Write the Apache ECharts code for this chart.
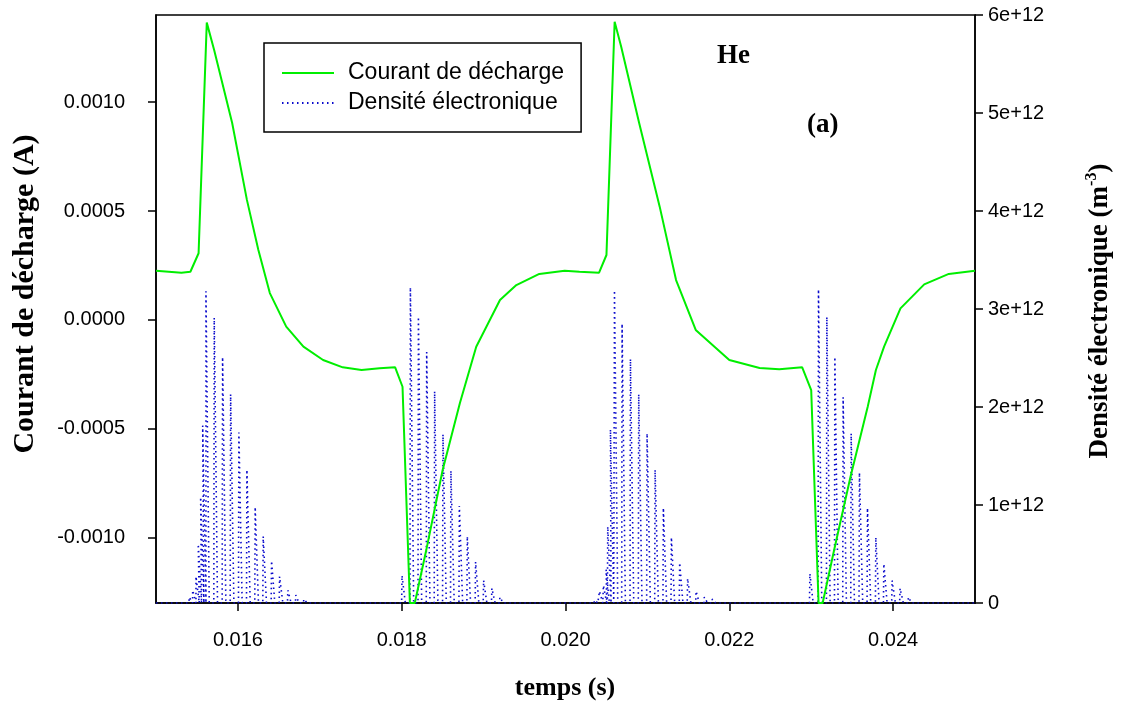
<!DOCTYPE html>
<html>
<head>
<meta charset="utf-8">
<script src="https://cdn.jsdelivr.net/npm/echarts@6/dist/echarts.min.js"></script>
<style>
  html, body { margin: 0; padding: 0; background: #fff; }
  #chart { width: 1122px; height: 704px; }
</style>
</head>
<body>
<div id="chart"></div>
<script>
// Discharge current (A) over time (s)
const currentTime = [
  0.01500, 0.01531, 0.01542, 0.01552, 0.01562, 0.01571, 0.01593, 0.01611, 0.01625, 0.01639,
  0.01659, 0.01680, 0.01704, 0.01728, 0.01751, 0.01773, 0.01792, 0.01801, 0.01810, 0.01816,
  0.01830, 0.01850, 0.01871, 0.01891, 0.01920, 0.01940, 0.01968, 0.01999, 0.02017, 0.02041,
  0.02050, 0.02060, 0.02068, 0.02090, 0.02115, 0.02135, 0.02159, 0.02200, 0.02237, 0.02261,
  0.02289, 0.02300, 0.02309, 0.02314, 0.02328, 0.02348, 0.02369, 0.02379, 0.02389, 0.02409,
  0.02438, 0.02468, 0.02500
];
const currentValue = [
  0.000226, 0.000217, 0.000221, 0.000306, 0.001365, 0.001239, 0.000904, 0.000551, 0.000321, 0.000123,
  -0.000031, -0.000123, -0.000184, -0.000218, -0.000230, -0.000222, -0.000218, -0.000307, -0.00130, -0.00130,
  -0.001057, -0.000689, -0.000383, -0.000123, 0.000091, 0.000160, 0.000211, 0.000226, 0.000221, 0.000217,
  0.000298, 0.001369, 0.001254, 0.000903, 0.000520, 0.000183, -0.000046, -0.000184, -0.000221, -0.000227,
  -0.000218, -0.000322, -0.00130, -0.00130, -0.001057, -0.000720, -0.000399, -0.000230, -0.000123, 0.000053,
  0.000163, 0.000211, 0.000226
];

// Electron density pulses (m^-3): time of each pulse and its peak value
const densityTime = [
  0.015301, 0.015406, 0.015448, 0.015488, 0.015516, 0.015545, 0.015570, 0.015610, 0.015711, 0.015813,
  0.015911, 0.016012, 0.016110, 0.016211, 0.016309, 0.016411, 0.016509, 0.016610, 0.016707, 0.016805,
  0.016918,
  0.017915, 0.018004, 0.018106, 0.018204, 0.018305, 0.018402, 0.018504, 0.018601, 0.018704, 0.018801,
  0.018902, 0.019000, 0.019101, 0.019199, 0.019293,
  0.020268, 0.020354, 0.020415, 0.020463, 0.020496, 0.020516, 0.020549, 0.020598, 0.020691, 0.020793,
  0.020894, 0.020996, 0.021094, 0.021195, 0.021293, 0.021394, 0.021491, 0.021594, 0.021695, 0.021793,
  0.021890,
  0.022882, 0.022984, 0.023089, 0.023191, 0.023289, 0.023390, 0.023488, 0.023589, 0.023687, 0.023789,
  0.023887, 0.023988, 0.024085, 0.024187, 0.024280
];
const densityValue = [
  0.02e12, 0.06e12, 0.13e12, 0.27e12, 0.60e12, 1.08e12, 1.81e12, 3.18e12, 2.91e12, 2.51e12,
  2.13e12, 1.74e12, 1.36e12, 0.98e12, 0.68e12, 0.43e12, 0.27e12, 0.13e12, 0.08e12, 0.04e12,
  0.02e12,
  0.02e12, 0.28e12, 3.22e12, 2.92e12, 2.56e12, 2.16e12, 1.72e12, 1.35e12, 0.99e12, 0.68e12,
  0.42e12, 0.23e12, 0.15e12, 0.06e12, 0.02e12,
  0.01e12, 0.03e12, 0.12e12, 0.18e12, 0.34e12, 0.78e12, 1.77e12, 3.19e12, 2.85e12, 2.49e12,
  2.13e12, 1.73e12, 1.36e12, 0.97e12, 0.67e12, 0.41e12, 0.25e12, 0.12e12, 0.06e12, 0.04e12,
  0.02e12,
  0.02e12, 0.30e12, 3.20e12, 2.92e12, 2.51e12, 2.10e12, 1.73e12, 1.33e12, 0.97e12, 0.67e12,
  0.40e12, 0.23e12, 0.15e12, 0.06e12, 0.02e12
];

// Axis tick positions
const timeTicks = [0.016, 0.018, 0.020, 0.022, 0.024];
const currentTicks = [-0.0010, -0.0005, 0.0000, 0.0005, 0.0010];

const NAME_I = 'Courant de décharge';
const NAME_N = 'Densité électronique';

// Each pulse rises sharply and falls back to zero just after its peak
const RISE = 0.000005, FALL = 0.00004;
const densityData = [[0.015, 0]];
densityTime.forEach(function (t, i) {
  densityData.push([t - RISE, 0], [t, densityValue[i]], [t + FALL, 0]);
});
densityData.push([0.025, 0]);

const currentData = currentTime.map(function (t, i) { return [t, currentValue[i]]; });

const SANS = 'Liberation Sans, Arial, sans-serif';
const SERIF = 'Liberation Serif, Times New Roman, serif';
const axisLine = { show: true, onZero: false, lineStyle: { color: '#000', width: 1.5 } };
const tickStyle = { color: '#000', width: 1.5 };

const chart = echarts.init(document.getElementById('chart'), null, { renderer: 'canvas' });
chart.setOption({
  animation: false,
  backgroundColor: '#fff',
  grid: {
    left: 156, right: 147, top: 15, bottom: 101,
    containLabel: false, outerBoundsMode: 'none',
    show: true, borderColor: '#000', borderWidth: 1.5, backgroundColor: 'transparent'
  },
  legend: {
    orient: 'vertical', left: 264, top: 43,
    padding: [18, 17, 17, 17],
    itemWidth: 52, itemHeight: 14, itemGap: 6,
    borderColor: '#000', borderWidth: 1.5, backgroundColor: '#fff',
    data: [NAME_I, NAME_N],
    itemStyle: { opacity: 0 },
    textStyle: { fontFamily: SANS, fontSize: 23, color: '#000', lineHeight: 24, padding: [0, 0, 0, 9] }
  },
  xAxis: {
    type: 'value', min: 0.015, max: 0.025,
    axisLine: axisLine,
    splitLine: { show: false },
    axisTick: { show: true, inside: false, length: 8, lineStyle: tickStyle, customValues: timeTicks },
    axisLabel: {
      customValues: timeTicks, margin: 27,
      fontFamily: SANS, fontSize: 20, color: '#000',
      formatter: function (v) { return v.toFixed(3); }
    }
  },
  yAxis: [
    {
      type: 'value', position: 'left', min: -0.0013, max: 0.0014,
      axisLine: axisLine,
      splitLine: { show: false },
      axisTick: { show: true, inside: false, length: 8, lineStyle: tickStyle, customValues: currentTicks },
      axisLabel: {
        customValues: currentTicks, margin: 31,
        fontFamily: SANS, fontSize: 20, color: '#000',
        formatter: function (v) { return v.toFixed(4); }
      }
    },
    {
      type: 'value', position: 'right', min: 0, max: 6e12, interval: 1e12,
      axisLine: axisLine,
      splitLine: { show: false },
      axisTick: { show: true, inside: false, length: 8, lineStyle: tickStyle },
      axisLabel: {
        margin: 13, fontFamily: SANS, fontSize: 20, color: '#000',
        formatter: function (v) { return v === 0 ? '0' : Math.round(v / 1e12) + 'e+12'; }
      }
    }
  ],
  series: [
    {
      name: NAME_N, type: 'line', yAxisIndex: 1,
      data: densityData, symbol: 'none', showSymbol: false,
      lineStyle: { color: '#0a0acc', width: 1.6, type: [1.5, 3.5] },
      itemStyle: { color: '#0a0acc' },
      z: 2
    },
    {
      name: NAME_I, type: 'line', yAxisIndex: 0,
      data: currentData, symbol: 'none', showSymbol: false,
      lineStyle: { color: '#00ee00', width: 2 },
      itemStyle: { color: '#00ee00' },
      z: 3
    }
  ],
  graphic: [
    {
      type: 'text', x: 25, y: 294, rotation: Math.PI / 2,
      style: {
        text: 'Courant de décharge (A)', fill: '#000',
        font: 'bold 30px ' + SERIF,
        textAlign: 'center', textVerticalAlign: 'middle', align: 'center', verticalAlign: 'middle'
      }
    },
    {
      type: 'text', x: 1099, y: 311, rotation: Math.PI / 2,
      style: {
        text: '{a|Densité électronique (m}{s|-3}{a|)}', fill: '#000',
        font: 'bold 27px ' + SERIF,
        textAlign: 'center', textVerticalAlign: 'middle', align: 'center', verticalAlign: 'middle',
        rich: {
          a: { font: 'bold 27px ' + SERIF, fill: '#000', lineHeight: 30, verticalAlign: 'bottom' },
          s: { font: 'bold 16px ' + SERIF, fill: '#000', lineHeight: 30, verticalAlign: 'top', padding: [0, 0, 14, 0] }
        }
      }
    },
    {
      type: 'text', x: 565, y: 688,
      style: {
        text: 'temps (s)', fill: '#000', font: 'bold 26px ' + SERIF,
        textAlign: 'center', textVerticalAlign: 'middle', align: 'center', verticalAlign: 'middle'
      }
    },
    {
      type: 'text', x: 717, y: 56,
      style: {
        text: 'He', fill: '#000', font: 'bold 27px ' + SERIF,
        textAlign: 'left', textVerticalAlign: 'middle', align: 'left', verticalAlign: 'middle'
      }
    },
    {
      type: 'text', x: 807, y: 125,
      style: {
        text: '(a)', fill: '#000', font: 'bold 27px ' + SERIF,
        textAlign: 'left', textVerticalAlign: 'middle', align: 'left', verticalAlign: 'middle'
      }
    }
  ]
});
</script>
</body>
</html>
